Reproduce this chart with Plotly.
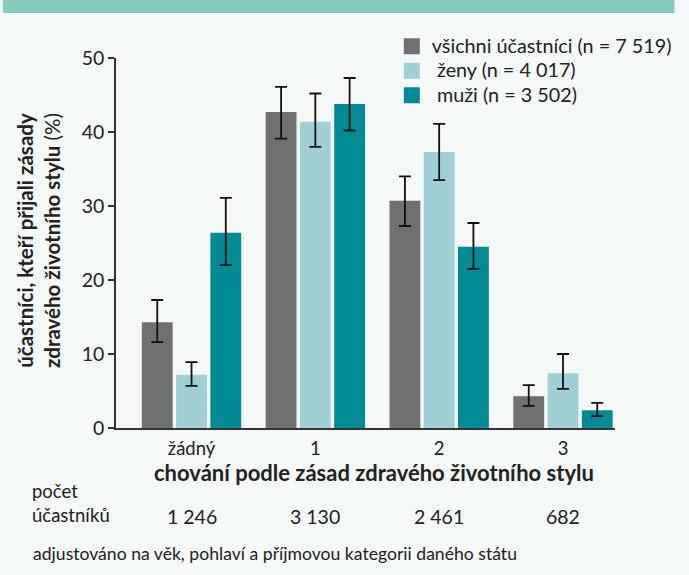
import plotly.graph_objects as go

categories = ["žádný", "1", "2", "3"]
counts = ["1 246", "3 130", "2 461", "682"]

series_names = ["všichni účastníci (n = 7 519)", " ženy (n = 4 017)", " muži (n = 3 502)"]
colors = ["#707070", "#9fd0d6", "#008b96"]

all_vals = [14.3, 42.7, 30.7, 4.3]
all_hi = [17.3, 46.1, 34.0, 5.8]
all_lo = [11.6, 39.1, 27.3, 3.0]

women_vals = [7.2, 41.4, 37.3, 7.4]
women_hi = [8.9, 45.2, 41.1, 10.0]
women_lo = [5.7, 38.0, 33.5, 5.3]

men_vals = [26.4, 43.8, 24.5, 2.4]
men_hi = [31.1, 47.3, 27.7, 3.4]
men_lo = [22.0, 40.2, 21.5, 1.6]

FONT = "Lato"
TXT = "#222222"
BG = "#f4f8f7"

W, H = 689, 575
L, R, T, B = 116, 61, 58, 147
PW = W - L - R
PH = H - T - B


def px_to_paper_x(px):
    return (px - L) / PW


def px_to_paper_y(py):
    return (H - B - py) / PH


fig = go.Figure()
xs = list(range(len(categories)))
data = [(all_vals, all_hi, all_lo), (women_vals, women_hi, women_lo), (men_vals, men_hi, men_lo)]
for (vals, hi, lo), name, col in zip(data, series_names, colors):
    fig.add_trace(go.Bar(
        x=xs, y=vals, name=name, marker=dict(color=col, line=dict(width=0)),
        showlegend=False,
        error_y=dict(type="data", symmetric=False,
                     array=[h - v for h, v in zip(hi, vals)],
                     arrayminus=[v - l for l, v in zip(lo, vals)],
                     color="#111111", thickness=1.8, width=6),
    ))
    # legend proxy with larger square symbol
    fig.add_trace(go.Scatter(
        x=[None], y=[None], mode="markers",
        name='<span style="font-size:19.8px">' + name + '</span>',
        marker=dict(symbol="square", size=16, color=col),
        showlegend=True,
    ))

fig.update_layout(
    width=W, height=H,
    margin=dict(l=L, r=R, t=T, b=B, pad=0),
    paper_bgcolor=BG, plot_bgcolor=BG,
    barmode="group", bargap=0.17, bargroupgap=0.1,
    font=dict(family=FONT, size=19, color=TXT),
    legend=dict(x=px_to_paper_x(399), y=px_to_paper_y(29), xanchor="left", yanchor="top",
                bgcolor="rgba(0,0,0,0)", font=dict(family=FONT, size=16.5, color=TXT),
                itemsizing="trace", tracegroupgap=0),
    xaxis=dict(range=[-0.61, 3.42], tickvals=xs, ticktext=categories,
               showline=True, linecolor="#333333", linewidth=1.5,
               ticks="", showgrid=False, zeroline=False, ticklabelstandoff=3,
               tickfont=dict(family=FONT, size=18.5, color=TXT)),
    yaxis=dict(range=[0, 50], tickvals=[0, 10, 20, 30, 40, 50],
               showline=True, linecolor="#333333", linewidth=1.5,
               ticks="outside", ticklen=6, tickwidth=1.5, tickcolor="#333333",
               showgrid=False, zeroline=False,
               tickfont=dict(family=FONT, size=19.5, color=TXT)),
    showlegend=True,
)

# header band
fig.add_shape(type="rect", xref="paper", yref="paper",
              x0=px_to_paper_x(0), x1=px_to_paper_x(W),
              y0=px_to_paper_y(13), y1=px_to_paper_y(0),
              fillcolor="#84cbbd", line=dict(width=0), layer="above")

# y-axis title
fig.add_annotation(
    text="<b>účastníci, kteří přijali zásady</b><br><b>zdravého životního stylu</b> (%)",
    xref="paper", yref="paper", x=px_to_paper_x(36), y=px_to_paper_y(241),
    xanchor="center", yanchor="middle", textangle=-90, showarrow=False,
    font=dict(family=FONT, size=20.5, color=TXT),
)

# x-axis title
fig.add_annotation(
    text="<b>chování podle zásad zdravého životního stylu</b>",
    xref="paper", yref="paper", x=px_to_paper_x(381), y=px_to_paper_y(472),
    xanchor="center", yanchor="middle", showarrow=False,
    font=dict(family=FONT, size=22, color=TXT),
)

# participant counts label
fig.add_annotation(
    text="počet<br>účastníků", align="left",
    xref="paper", yref="paper", x=px_to_paper_x(28), y=px_to_paper_y(503),
    xanchor="left", yanchor="middle", showarrow=False,
    font=dict(family=FONT, size=18.5, color=TXT),
)

for xi, c in zip(xs, counts):
    fig.add_annotation(
        text=c, xref="x", yref="paper", x=xi, y=px_to_paper_y(516),
        xanchor="center", yanchor="middle", showarrow=False,
        font=dict(family=FONT, size=19.5, color=TXT),
    )

# footnote
fig.add_annotation(
    text="adjustováno na věk, pohlaví a příjmovou kategorii daného státu",
    xref="paper", yref="paper", x=px_to_paper_x(29), y=px_to_paper_y(553),
    xanchor="left", yanchor="middle", showarrow=False,
    font=dict(family=FONT, size=17.6, color=TXT),
)

fig.write_html("out.html", config={"displayModeBar": False},
               post_script="document.body.style.margin='0px';")
